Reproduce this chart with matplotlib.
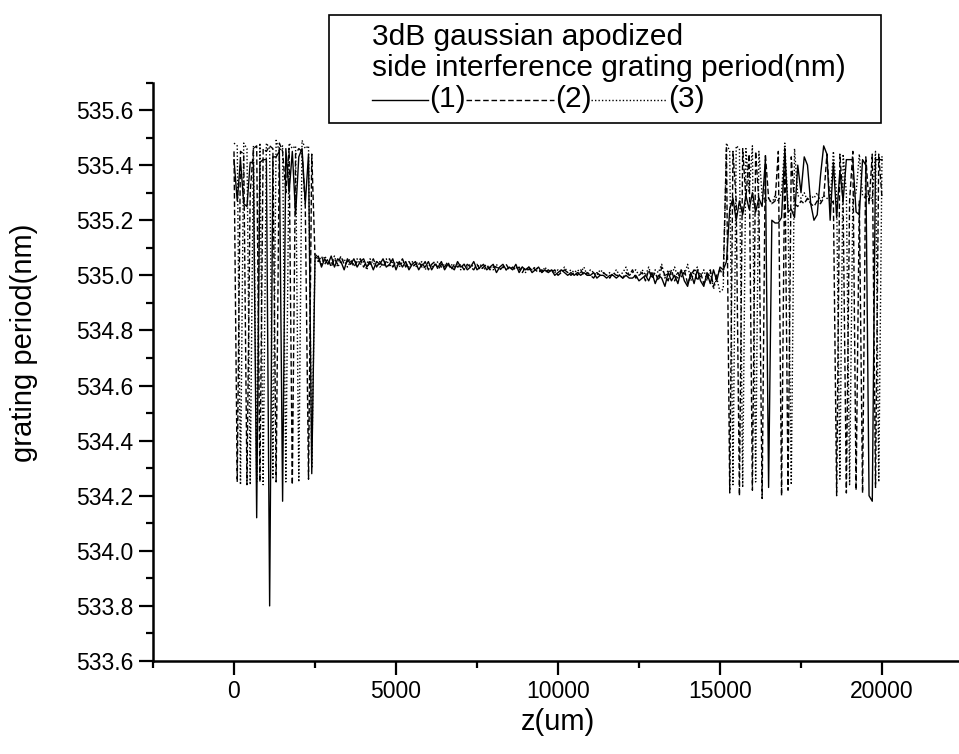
import numpy as np
import matplotlib
matplotlib.use('Agg')
import matplotlib.pyplot as plt
from matplotlib.lines import Line2D
from matplotlib.patches import Rectangle

plt.rcParams['font.family'] = ['Liberation Sans', 'DejaVu Sans']

# z positions (um) of the samples: left apodized end, flat middle, right end
z_left = np.arange(0, 2501, 100)
z_mid = np.arange(2600, 15001, 100)
z_right = np.arange(15100, 20001, 100)

# ---- series (1), solid ----
p1_left = [535.42, 535.27, 535.42, 535.26, 535.25, 535.41, 535.41, 534.12, 535.41, 535.42,
           535.42, 533.80, 535.43, 535.43, 535.45, 534.18, 535.46, 535.30, 535.45, 535.22,
           535.43, 535.46, 535.26, 535.44, 534.28, 535.06]
p1_mid = [535.07, 535.03, 535.06, 535.04, 535.07, 535.03, 535.06, 535.05, 535.02, 535.06,
          535.04, 535.06, 535.03, 535.05, 535.06, 535.03, 535.05, 535.02, 535.05, 535.04,
          535.06, 535.03, 535.04, 535.06, 535.02, 535.05, 535.03, 535.05, 535.02, 535.04,
          535.05, 535.02, 535.04, 535.03, 535.05, 535.02, 535.04, 535.03, 535.05, 535.02,
          535.04, 535.03, 535.02, 535.05, 535.03, 535.04, 535.02, 535.03, 535.05, 535.02,
          535.03, 535.04, 535.02, 535.03, 535.04, 535.01, 535.03, 535.04, 535.02, 535.03,
          535.02, 535.04, 535.01, 535.03, 535.02, 535.03, 535.01, 535.02, 535.03, 535.01,
          535.02, 535.01, 535.02, 535.00, 535.01, 535.02, 535.01, 535.00, 535.01, 535.00,
          535.01, 535.00, 535.01, 535.00, 535.00, 535.01, 534.99, 535.00, 535.00, 534.99,
          535.00, 535.00, 534.99, 535.00, 534.99, 535.00, 534.99, 534.99, 535.00, 534.98,
          534.99, 535.00, 534.98, 535.01, 534.97, 535.00, 534.99, 534.96, 535.01, 534.98,
          535.00, 534.97, 535.02, 534.98, 534.96, 535.01, 534.97, 535.02, 534.98, 534.96,
          535.01, 534.97, 535.02, 534.98, 535.03]
p1_right = [535.02, 535.05, 535.24, 535.28, 535.20, 535.27, 535.22, 535.29, 535.24, 535.30,
            535.23, 535.28, 535.25, 535.42, 534.23, 535.20, 535.19, 535.19, 535.21, 535.45,
            535.23, 535.24, 535.21, 535.40, 535.30, 535.43, 535.40, 535.26, 535.20, 535.22,
            535.36, 535.47, 535.44, 535.20, 535.41, 535.21, 535.38, 535.27, 535.42, 535.42,
            535.42, 535.23, 535.22, 535.42, 535.40, 534.20, 534.18, 535.42, 535.42, 535.42]

# ---- series (2), dashed ----
p2_left = [535.45, 534.25, 535.45, 535.44, 534.24, 535.30, 535.46, 535.47, 534.25, 535.46,
           535.45, 535.47, 535.46, 534.25, 535.48, 535.45, 535.30, 535.46, 534.24, 535.44,
           535.46, 535.45, 535.25, 534.26, 535.44, 535.07]
p2_mid = [535.05, 535.07, 535.04, 535.06, 535.03, 535.06, 535.04, 535.07, 535.04, 535.05,
          535.06, 535.03, 535.05, 535.06, 535.03, 535.05, 535.04, 535.06, 535.03, 535.05,
          535.03, 535.05, 535.06, 535.03, 535.05, 535.04, 535.06, 535.03, 535.05, 535.03,
          535.04, 535.05, 535.03, 535.05, 535.02, 535.04, 535.05, 535.02, 535.04, 535.03,
          535.05, 535.02, 535.04, 535.03, 535.04, 535.02, 535.04, 535.03, 535.02, 535.04,
          535.02, 535.03, 535.04, 535.02, 535.03, 535.03, 535.02, 535.03, 535.04, 535.02,
          535.03, 535.02, 535.03, 535.01, 535.03, 535.02, 535.03, 535.02, 535.01, 535.02,
          535.01, 535.02, 535.01, 535.02, 535.00, 535.01, 535.02, 535.01, 535.00, 535.01,
          535.00, 535.02, 535.00, 535.01, 535.00, 534.99, 535.01, 535.00, 535.01, 535.00,
          534.99, 535.01, 535.00, 535.00, 534.99, 535.01, 535.00, 535.02, 534.99, 535.00,
          535.01, 534.98, 535.02, 534.99, 535.01, 534.98, 535.03, 535.00, 534.98, 535.02,
          534.98, 535.01, 534.99, 535.02, 534.97, 535.00, 535.02, 534.98, 535.01, 534.97,
          534.99, 535.02, 534.96, 535.00, 535.02]
p2_right = [535.00, 535.46, 534.21, 535.45, 535.27, 534.20, 535.46, 535.28, 535.44, 534.22,
            535.45, 535.27, 534.19, 535.44, 535.28, 535.26, 535.27, 535.45, 534.20, 535.46,
            534.22, 535.43, 535.26, 535.25, 535.27, 535.26, 535.28, 535.26, 535.25, 535.27,
            535.26, 535.28, 535.44, 535.25, 535.27, 534.20, 535.44, 535.26, 534.21, 535.27,
            535.45, 534.22, 535.27, 534.21, 535.43, 535.26, 535.44, 534.23, 535.44, 535.28]

# ---- series (3), dotted ----
p3_left = [535.48, 535.47, 534.24, 535.48, 535.46, 534.24, 535.47, 534.25, 535.48, 534.24,
           535.48, 535.46, 534.26, 535.49, 535.45, 535.47, 534.25, 535.48, 535.46, 535.47,
           534.25, 535.49, 535.46, 535.47, 534.30, 535.08]
p3_mid = [535.06, 535.04, 535.07, 535.05, 535.04, 535.07, 535.03, 535.05, 535.06, 535.03,
          535.05, 535.04, 535.06, 535.04, 535.05, 535.02, 535.06, 535.04, 535.05, 535.03,
          535.04, 535.06, 535.03, 535.05, 535.04, 535.03, 535.05, 535.04, 535.03, 535.05,
          535.03, 535.04, 535.05, 535.02, 535.04, 535.03, 535.04, 535.05, 535.03, 535.04,
          535.03, 535.04, 535.03, 535.04, 535.02, 535.04, 535.03, 535.04, 535.03, 535.03,
          535.04, 535.02, 535.03, 535.03, 535.02, 535.04, 535.02, 535.03, 535.02, 535.03,
          535.02, 535.03, 535.02, 535.03, 535.01, 535.03, 535.02, 535.03, 535.02, 535.01,
          535.03, 535.01, 535.02, 535.01, 535.02, 535.01, 535.03, 535.01, 535.02, 535.01,
          535.02, 535.01, 535.03, 535.00, 535.02, 535.01, 535.00, 535.02, 535.01, 535.00,
          535.01, 535.00, 535.02, 535.00, 535.01, 535.03, 535.00, 535.01, 535.02, 535.00,
          535.02, 535.00, 535.03, 534.99, 535.02, 535.01, 535.04, 534.99, 535.02, 535.00,
          535.03, 534.99, 535.02, 535.00, 535.04, 534.98, 535.01, 535.03, 534.99, 535.02,
          534.98, 535.01, 534.95, 534.99, 534.94]
p3_right = [534.95, 535.48, 535.45, 534.24, 535.47, 535.46, 534.23, 535.46, 535.30, 535.47,
            534.25, 535.45, 535.29, 535.27, 535.28, 535.26, 535.29, 535.27, 535.30, 535.48,
            535.25, 534.24, 535.46, 535.29, 535.28, 535.30, 535.27, 535.29, 535.28, 535.30,
            535.27, 535.29, 535.28, 535.27, 535.45, 535.29, 534.26, 535.44, 535.30, 534.24,
            535.28, 535.30, 535.44, 535.29, 535.28, 535.30, 535.27, 535.45, 534.25, 535.44]

labels = ['(1)', '(2)', '(3)']
legend_title = ['3dB gaussian apodized', 'side interference grating period(nm)']

z = np.concatenate([z_left, z_mid, z_right])
series = [np.concatenate([p1_left, p1_mid, p1_right]),
          np.concatenate([p2_left, p2_mid, p2_right]),
          np.concatenate([p3_left, p3_mid, p3_right])]
styles = ['-', (0, (4, 2)), (0, (1, 1.5))]

W, H = 959, 754
fig = plt.figure(figsize=(W / 100, H / 100), dpi=100)
ax = fig.add_axes([153 / W, 93 / H, 810 / W, 578.5 / H])

for s, ls in zip(series[::-1], styles[::-1]):
    ax.plot(z, s, color='black', lw=1.0, linestyle=ls)

ax.set_xlim(-2500, 22500)
ax.set_ylim(533.6, 535.7)
ax.set_xticks([0, 5000, 10000, 15000, 20000])
ax.set_xticks(np.arange(-2500, 22501, 5000), minor=True)
ax.set_yticks(np.arange(533.6, 535.61, 0.2))
ax.set_yticks(np.arange(533.7, 535.71, 0.2), minor=True)
ax.yaxis.set_major_formatter(plt.FormatStrFormatter('%.1f'))
ax.spines['top'].set_visible(False)
ax.spines['right'].set_visible(False)
for sp in ['left', 'bottom']:
    ax.spines[sp].set_linewidth(1.8)
ax.tick_params(which='major', direction='out', length=10, width=1.6, labelsize=16.5, pad=4)
ax.tick_params(which='minor', direction='out', length=5, width=1.6)
ax.set_xlabel('z(um)', fontsize=21, labelpad=3)
ax.set_ylabel('grating period(nm)', fontsize=21)
ax.yaxis.set_label_coords(-0.142, 0.55)

# Origin style legend box on top of the figure
fig.patches.append(Rectangle((329 / W, 1 - 123 / H), 552 / W, 108 / H, transform=fig.transFigure,
                             fill=False, edgecolor='black', lw=1.2))
fig.text(372 / W, 1 - 37 / H, legend_title[0], fontsize=21.5, va='center')
fig.text(372 / W, 1 - 68 / H, legend_title[1], fontsize=21.5, va='center')
seg = [(372, 428), (466, 554), (591, 667)]
for lab, ls, (a, b) in zip(labels, styles, seg):
    fig.add_artist(Line2D([a / W, b / W], [1 - 100 / H, 1 - 100 / H],
                          transform=fig.transFigure, color='black', lw=1.0, linestyle=ls))
    fig.text((b + 1) / W, 1 - 99 / H, lab, fontsize=21.5, va='center')

fig.savefig('out.png', dpi=100)
